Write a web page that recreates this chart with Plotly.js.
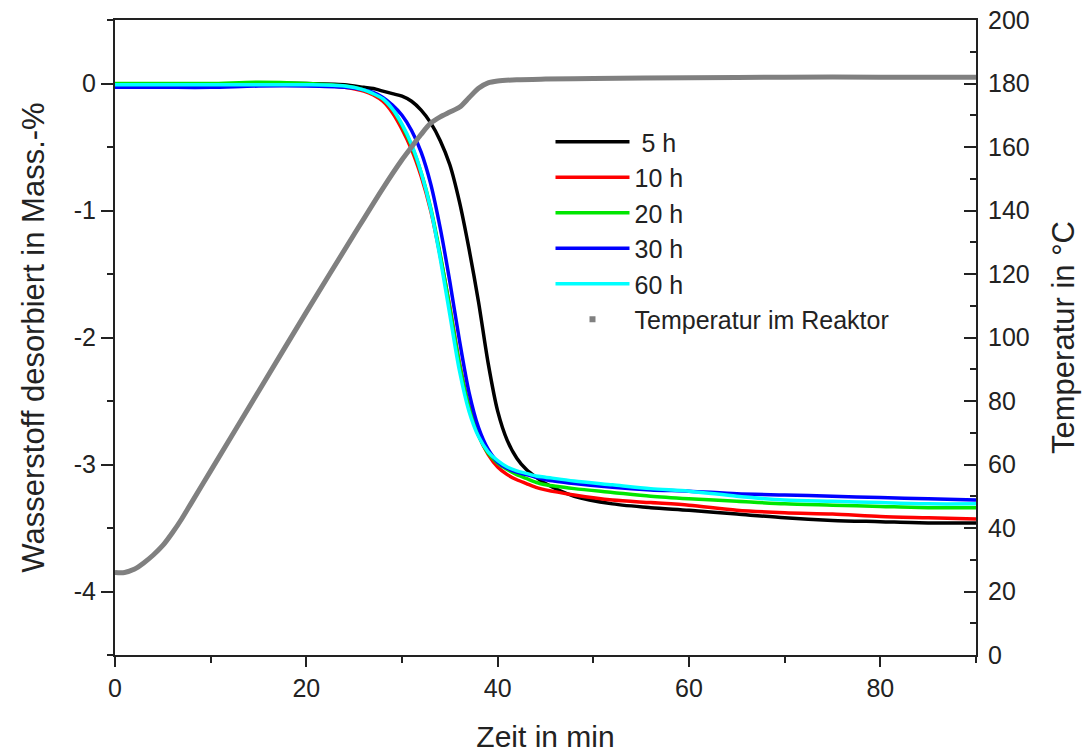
<!DOCTYPE html>
<html>
<head>
<meta charset="utf-8">
<script src="https://cdn.plot.ly/plotly-3.0.1.min.js"></script>
<style>html,body{margin:0;padding:0;background:#fff;}#chart{width:1088px;height:753px;}</style>
</head>
<body>
<div id="chart"></div>
<script>
// Time axis (min) for hydrogen desorption curves
const timeH2 = [0, 5, 10, 15, 20, 24, 26, 27, 28, 29, 30, 31, 32, 33, 34, 35, 36, 37, 38, 39, 40, 41, 42, 43, 44, 45, 48, 52, 56, 60, 65, 70, 75, 80, 85, 90];
// Wasserstoff desorbiert in Mass.-%
const h5  = [-0.02, -0.01, -0.01, 0.00, 0.00, -0.01, -0.03, -0.04, -0.06, -0.08, -0.10, -0.14, -0.21, -0.31, -0.45, -0.64, -0.93, -1.30, -1.72, -2.20, -2.58, -2.81, -2.95, -3.04, -3.10, -3.15, -3.25, -3.31, -3.34, -3.36, -3.39, -3.42, -3.44, -3.45, -3.46, -3.46];
const h10 = [-0.02, -0.02, -0.02, -0.01, -0.01, -0.03, -0.06, -0.09, -0.14, -0.23, -0.36, -0.52, -0.73, -1.00, -1.36, -1.76, -2.20, -2.54, -2.77, -2.92, -3.02, -3.08, -3.12, -3.15, -3.18, -3.20, -3.24, -3.28, -3.30, -3.32, -3.36, -3.38, -3.39, -3.41, -3.42, -3.43];
const h20 = [0.00, 0.00, 0.00, 0.01, 0.00, -0.02, -0.05, -0.08, -0.12, -0.20, -0.33, -0.49, -0.70, -0.98, -1.35, -1.77, -2.21, -2.55, -2.77, -2.91, -2.99, -3.04, -3.08, -3.11, -3.14, -3.16, -3.19, -3.22, -3.25, -3.27, -3.29, -3.31, -3.32, -3.33, -3.34, -3.34];
const h30 = [-0.03, -0.03, -0.03, -0.02, -0.02, -0.03, -0.05, -0.07, -0.11, -0.17, -0.25, -0.37, -0.54, -0.79, -1.14, -1.56, -2.02, -2.43, -2.71, -2.88, -2.98, -3.03, -3.06, -3.08, -3.10, -3.12, -3.15, -3.18, -3.20, -3.21, -3.23, -3.24, -3.25, -3.26, -3.27, -3.28];
const h60 = [-0.01, -0.01, -0.01, -0.01, -0.01, -0.02, -0.05, -0.08, -0.12, -0.20, -0.32, -0.48, -0.70, -0.99, -1.38, -1.82, -2.26, -2.58, -2.78, -2.90, -2.97, -3.02, -3.05, -3.07, -3.09, -3.10, -3.13, -3.16, -3.19, -3.21, -3.25, -3.28, -3.29, -3.30, -3.31, -3.31];
const seriesNames = [' 5 h', '10 h', '20 h', '30 h', '60 h'];
const seriesColors = ['#000000', '#ff0000', '#00e600', '#0000ff', '#00ffff'];
// Temperature in reactor (°C)
const timeT = [0, 1, 2, 3, 4, 5, 6, 7, 8, 10, 15, 20, 25, 28, 30, 31, 32, 33, 34, 35, 36, 37, 38, 39, 40, 42, 45, 50, 60, 70, 80, 90];
const tempT = [26, 26, 27, 29, 31.5, 34.5, 38.5, 43, 48, 58, 83, 108, 132.5, 147, 156, 160, 164, 167.5, 169.5, 171, 172.5, 175.5, 178.5, 180.2, 180.8, 181.2, 181.4, 181.6, 181.8, 182, 182, 182];
const tempName = 'Temperatur im Reaktor';
const leftTickVals = [0, -1, -2, -3, -4];
const leftTickText = ['0', '-1', '-2', '-3', '-4'];

const FONT = 'Liberation Sans, Arial, sans-serif';
const AX = '#222222';
const ys = [h5, h10, h20, h30, h60];
const traces = ys.map((y, i) => ({
  x: timeH2, y: y, type: 'scatter', mode: 'lines', name: seriesNames[i],
  line: {color: seriesColors[i], width: 3.5, shape: 'spline', smoothing: 0.8}
}));
traces.push({x: timeT, y: tempT, yaxis: 'y2', type: 'scatter', mode: 'lines', name: tempName,
  showlegend: false, line: {color: '#808080', width: 5, shape: 'spline', smoothing: 0.8}});
traces.push({x: [null], y: [null], yaxis: 'y2', type: 'scatter', mode: 'markers', name: tempName,
  marker: {symbol: 'square', color: '#808080', size: 6}});

const layout = {
  width: 1088, height: 753,
  margin: {l: 115, r: 112, t: 20, b: 98},
  paper_bgcolor: '#fff', plot_bgcolor: '#fff',
  font: {family: FONT, color: AX, size: 25},
  showlegend: true,
  legend: {x: 0.5058, y: 0.844, xanchor: 'left', yanchor: 'top', bgcolor: 'rgba(0,0,0,0)',
    font: {family: FONT, size: 25, color: AX}, itemwidth: 74, tracegroupgap: 0},
  xaxis: {range: [0, 90], dtick: 20, tick0: 0, showgrid: false, zeroline: false,
    showline: true, linewidth: 2, linecolor: AX, mirror: true,
    ticks: 'outside', ticklen: 10, tickwidth: 2, tickcolor: AX,
    minor: {dtick: 10, tick0: 0, ticklen: 6, tickwidth: 2, tickcolor: AX, ticks: 'outside'},
    tickfont: {size: 25}, automargin: false,
    title: {text: 'Zeit in min', font: {size: 30}, standoff: 29}},
  yaxis: {range: [-4.5, 0.5], tickvals: leftTickVals, ticktext: leftTickText, showgrid: false, zeroline: false,
    showline: true, linewidth: 2, linecolor: AX, mirror: true,
    ticks: 'outside', ticklen: 12, tickwidth: 2, tickcolor: AX,
    minor: {dtick: 0.5, tick0: 0, ticklen: 6, tickwidth: 2, tickcolor: AX, ticks: 'outside'},
    tickfont: {size: 25}, automargin: false,
    title: {text: 'Wasserstoff desorbiert in Mass.-%', font: {size: 31}, standoff: 20}},
  yaxis2: {overlaying: 'y', side: 'right', range: [0, 200], dtick: 20, tick0: 0, showgrid: false, zeroline: false,
    showline: true, linewidth: 2, linecolor: AX,
    ticks: 'inside', ticklen: 12, tickwidth: 2, tickcolor: AX, ticklabelstandoff: 5,
    minor: {dtick: 10, tick0: 0, ticklen: 6, tickwidth: 2, tickcolor: AX, ticks: 'inside'},
    tickfont: {size: 25}, automargin: false,
    title: {text: 'Temperatur in °C', font: {size: 31}, standoff: 24}}
};
Plotly.newPlot('chart', traces, layout, {displayModeBar: false, staticPlot: true});
</script>
</body>
</html>
